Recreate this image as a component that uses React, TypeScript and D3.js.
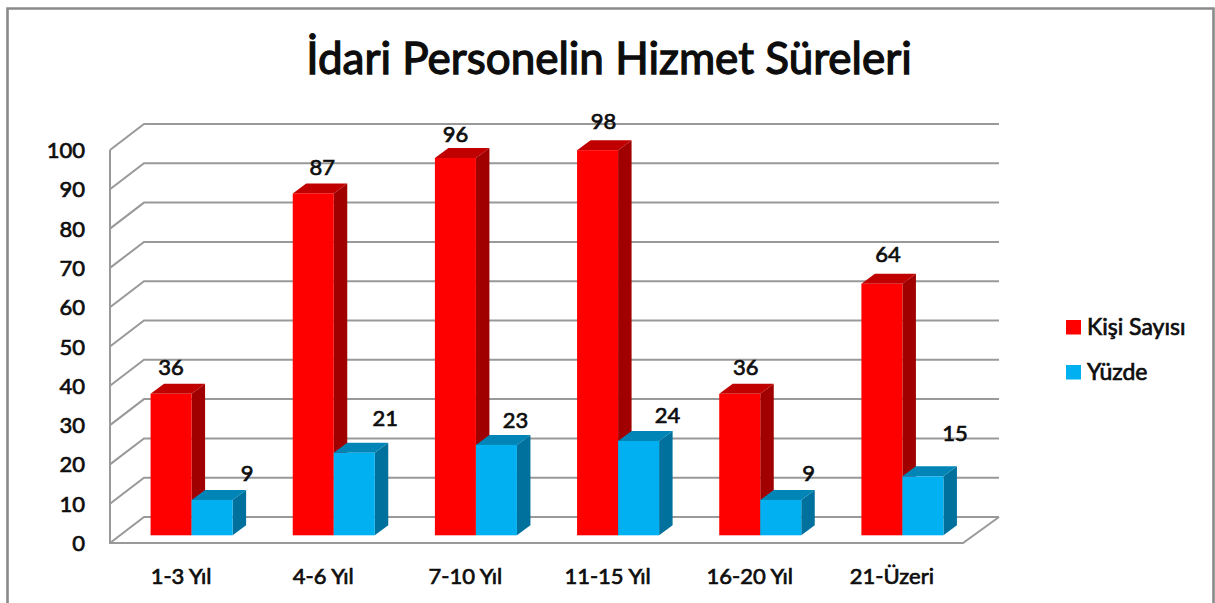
import * as d3 from 'd3';

const categories = ['1-3 Yıl', '4-6 Yıl', '7-10 Yıl', '11-15 Yıl', '16-20 Yıl', '21-Üzeri'];
const seriesNames = ['Kişi Sayısı', 'Yüzde'];
const kisiSayisi = [36, 87, 96, 98, 36, 64];
const yuzde = [9, 21, 23, 24, 9, 15];
const seriesValues = [kisiSayisi, yuzde];

// where the value labels sit relative to the top of their bar
const labelShiftKisi = [[0, -26], [9, -25], [0, -23], [6, -28], [6, -26], [6, -29]];
const labelShiftYuzde = [[35, -26], [31, -34], [19, -24], [29, -25], [28, -26], [32, -42]];
const labelShifts = [labelShiftKisi, labelShiftYuzde];

const width = 1215;
const height = 603;
const font = 'Lato, "Noto Sans", sans-serif';
const gridColor = '#999999';
const textColor = '#0d0d0d';
// regular Lato with a hairline stroke, closer to the soft semi-bold of the picture
const textStyle = { fill: textColor, stroke: textColor, strokeWidth: 0.7 };

const colors = [
  { front: '#ff0000', side: '#a00000', top: '#c00000' },
  { front: '#00b0f0', side: '#00719c', top: '#0085b6' },
];

// 3D box: the chart floor runs back by wallDx/wallDy, bars are thinner and stand in the middle
const wallDx = 34;
const wallDy = -26;
const barDx = 13.5;
const barDy = -10;
const barOffsetX = 10.5;
const barOffsetY = -7.7;

const x = d3.scaleBand<string>()
  .domain(categories)
  .range([110, 963])
  .paddingInner(0.423)
  .paddingOuter(0.2115);

const xSeries = d3.scaleBand<number>()
  .domain([0, 1])
  .range([0, x.bandwidth()]);

const y = d3.scaleLinear().domain([0, 100]).range([543, 150]);

export default function App() {
  const yTicks = y.ticks(10);
  const y0 = y(0);
  const wallPath = d3.path();
  yTicks.forEach((t) => {
    wallPath.moveTo(110, y(t));
    wallPath.lineTo(110 + wallDx, y(t) + wallDy);
    wallPath.lineTo(999, y(t) + wallDy);
  });
  wallPath.moveTo(110, y(100));
  wallPath.lineTo(110, y0);
  wallPath.lineTo(963, y0);
  wallPath.lineTo(963 + wallDx + 2, y0 + wallDy);

  return (
    <svg
      width={width}
      height={height}
      viewBox={`0 0 ${width} ${height}`}
      style={{ position: 'fixed', left: 0, top: 0, background: '#fff' }}
      fontFamily={font}
    >
      {/* frame */}
      <path d={`M7.5,${height} V8.5 H1213.5 V${height}`} fill="none" stroke="#8a8a8a" strokeWidth={2.6} />

      <text x={609} y={74} textAnchor="middle" fontSize={44} {...textStyle} strokeWidth={1.3}>
        İdari Personelin Hizmet Süreleri
      </text>

      <path d={wallPath.toString()} fill="none" stroke={gridColor} strokeWidth={2} />

      {yTicks.map((t) => (
        <text key={t} x={85} y={y(t) + 8} textAnchor="end" fontSize={22} {...textStyle}>
          {t}
        </text>
      ))}

      {categories.map((cat, i) => (
        <g key={cat}>
          {seriesValues.map((values, s) => {
            const bx = x(cat)! + xSeries(s)! + barOffsetX;
            const bw = xSeries.bandwidth();
            const top = y(values[i]) + barOffsetY;
            const bottom = y0 + barOffsetY;
            const c = colors[s];
            return (
              <g key={s}>
                <path
                  d={`M${bx + bw},${top} l${barDx},${barDy} V${bottom + barDy} L${bx + bw},${bottom} Z`}
                  fill={c.side}
                />
                <path
                  d={`M${bx},${top} l${barDx},${barDy} h${bw} L${bx + bw},${top} Z`}
                  fill={c.top}
                />
                <rect x={bx} y={top} width={bw} height={bottom - top} fill={c.front} />
              </g>
            );
          })}
        </g>
      ))}

      {/* value labels go over all bars */}
      {categories.map((cat, i) =>
        seriesValues.map((values, s) => (
          <text
            key={`${cat}-${s}`}
            x={x(cat)! + xSeries(s)! + barOffsetX + xSeries.bandwidth() / 2 + labelShifts[s][i][0]}
            y={y(values[i]) + barOffsetY + labelShifts[s][i][1] + 7}
            textAnchor="middle"
            fontSize={22}
            {...textStyle}
          >
            {values[i]}
          </text>
        ))
      )}

      {categories.map((cat) => (
        <text
          key={cat}
          x={x(cat)! + x.bandwidth() / 2}
          y={584}
          textAnchor="middle"
          fontSize={22}
          {...textStyle}
        >
          {cat}
        </text>
      ))}

      {/* legend */}
      {seriesNames.map((name, s) => (
        <g key={name} transform={`translate(1066,${320 + s * 45})`}>
          <rect width={15} height={14.5} fill={colors[s].front} />
          <text x={21} y={15} fontSize={23} {...textStyle}>
            {name}
          </text>
        </g>
      ))}
    </svg>
  );
}
